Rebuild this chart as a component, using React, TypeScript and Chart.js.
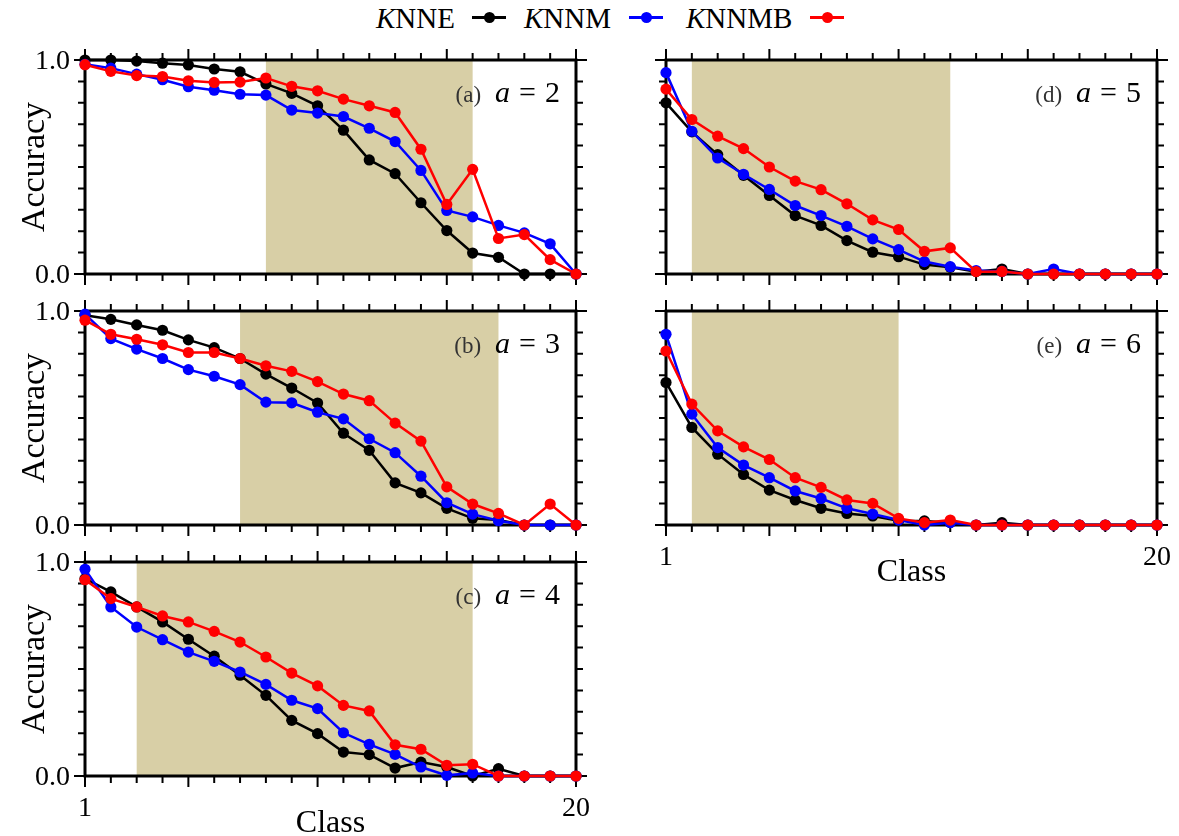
import React, { useEffect, useRef } from "react";
import { Chart, registerables } from "chart.js";
Chart.register(...registerables);

const classes = [1, 2, 3, 4, 5, 6, 7, 8, 9, 10, 11, 12, 13, 14, 15, 16, 17, 18, 19, 20];
const seriesNames = ["KNNE", "KNNM", "KNNMB"];
const yTickLabels = ["0.0", "1.0"];
const xTickLabels = ["1", "20"];

// panel (a) a = 2
const knneA = [1.0, 1.0, 0.995, 0.985, 0.977, 0.958, 0.945, 0.888, 0.844, 0.786, 0.672, 0.533, 0.469, 0.333, 0.203, 0.098, 0.078, 0, 0, 0];
const knnmA = [0.98, 0.962, 0.934, 0.908, 0.875, 0.859, 0.84, 0.836, 0.766, 0.752, 0.736, 0.681, 0.619, 0.484, 0.297, 0.267, 0.227, 0.192, 0.141, 0];
const knnmbA = [0.978, 0.947, 0.927, 0.923, 0.903, 0.895, 0.897, 0.916, 0.877, 0.856, 0.817, 0.786, 0.755, 0.583, 0.325, 0.489, 0.166, 0.184, 0.067, 0];
const shadeA = [8, 16];

// panel (b) a = 3
const knneB = [0.98, 0.961, 0.935, 0.91, 0.865, 0.829, 0.778, 0.705, 0.64, 0.57, 0.429, 0.349, 0.197, 0.15, 0.078, 0.031, 0.023, 0, 0, 0];
const knnmB = [0.985, 0.871, 0.822, 0.778, 0.726, 0.695, 0.656, 0.574, 0.571, 0.527, 0.496, 0.403, 0.338, 0.228, 0.104, 0.051, 0.02, 0, 0, 0];
const knnmbB = [0.957, 0.891, 0.868, 0.842, 0.806, 0.806, 0.778, 0.744, 0.718, 0.67, 0.612, 0.581, 0.476, 0.392, 0.178, 0.098, 0.054, 0, 0.098, 0];
const shadeB = [7, 17];

// panel (c) a = 4
const knneC = [0.922, 0.86, 0.79, 0.72, 0.639, 0.56, 0.471, 0.377, 0.26, 0.198, 0.112, 0.1, 0.037, 0.065, 0.042, 0, 0.034, 0, 0, 0];
const knnmC = [0.966, 0.79, 0.696, 0.637, 0.579, 0.536, 0.486, 0.428, 0.354, 0.315, 0.202, 0.148, 0.101, 0.042, 0.003, 0.014, 0, 0, 0, 0];
const knnmbC = [0.917, 0.829, 0.79, 0.748, 0.72, 0.676, 0.626, 0.556, 0.481, 0.421, 0.33, 0.304, 0.146, 0.125, 0.05, 0.055, 0, 0, 0, 0];
const shadeC = [3, 16];

// panel (d) a = 5
const knneD = [0.8, 0.664, 0.558, 0.461, 0.367, 0.273, 0.227, 0.156, 0.102, 0.081, 0.044, 0.031, 0.011, 0.023, 0, 0, 0, 0, 0, 0];
const knnmD = [0.941, 0.667, 0.542, 0.466, 0.395, 0.32, 0.273, 0.223, 0.164, 0.114, 0.058, 0.034, 0.016, 0.012, 0, 0.023, 0, 0, 0, 0];
const knnmbD = [0.864, 0.722, 0.644, 0.586, 0.5, 0.434, 0.394, 0.328, 0.253, 0.208, 0.106, 0.122, 0.011, 0.012, 0, 0, 0, 0, 0, 0];
const shadeD = [2, 12];

// panel (e) a = 6
const knneE = [0.666, 0.456, 0.331, 0.236, 0.163, 0.117, 0.078, 0.054, 0.042, 0.02, 0.019, 0.011, 0, 0.011, 0, 0, 0, 0, 0, 0];
const knnmE = [0.891, 0.518, 0.362, 0.28, 0.221, 0.159, 0.124, 0.078, 0.051, 0.023, 0, 0.011, 0, 0, 0, 0, 0, 0, 0, 0];
const knnmbE = [0.813, 0.565, 0.44, 0.365, 0.306, 0.221, 0.176, 0.117, 0.101, 0.031, 0.011, 0.023, 0, 0, 0, 0, 0, 0, 0, 0];
const shadeE = [2, 10];

const COLORS = ["#000000", "#0000ff", "#ff0000"];
const SHADE = "#d8cfa6";
const FONT = "'Liberation Serif', 'Times New Roman', serif";

type Rect = { x: number; y: number; w: number; h: number };
type Panel = {
  tag: string;
  aval: number;
  series: number[][];
  shade: number[];
  canvas: Rect;
  plot: { l: number; t: number; r: number; b: number };
  yLabels: boolean;
  xLabels: boolean;
};

const panels: Panel[] = [
  { tag: "(a)", aval: 2, series: [knneA, knnmA, knnmbA], shade: shadeA, canvas: { x: 0, y: 36, w: 600, h: 256 }, plot: { l: 85, t: 60, r: 576, b: 274 }, yLabels: true, xLabels: false },
  { tag: "(b)", aval: 3, series: [knneB, knnmB, knnmbB], shade: shadeB, canvas: { x: 0, y: 292, w: 600, h: 253 }, plot: { l: 85, t: 311, r: 576, b: 525 }, yLabels: true, xLabels: false },
  { tag: "(c)", aval: 4, series: [knneC, knnmC, knnmbC], shade: shadeC, canvas: { x: 0, y: 545, w: 600, h: 291 }, plot: { l: 85, t: 562, r: 576, b: 776 }, yLabels: true, xLabels: true },
  { tag: "(d)", aval: 5, series: [knneD, knnmD, knnmbD], shade: shadeD, canvas: { x: 600, y: 36, w: 579, h: 256 }, plot: { l: 666, t: 60, r: 1157, b: 274 }, yLabels: false, xLabels: false },
  { tag: "(e)", aval: 6, series: [knneE, knnmE, knnmbE], shade: shadeE, canvas: { x: 600, y: 292, w: 579, h: 308 }, plot: { l: 666, t: 311, r: 1157, b: 525 }, yLabels: false, xLabels: true },
];

const decorPlugin = {
  id: "decor",
  beforeDatasetsDraw(chart: any, _args: any, opts: any) {
    const ctx = chart.ctx;
    const a = chart.chartArea;
    const xs = chart.scales.x;
    const ys = chart.scales.y;
    ctx.save();
    // shaded band
    const x0 = xs.getPixelForValue(opts.shade[0]);
    const x1 = xs.getPixelForValue(opts.shade[1]);
    ctx.fillStyle = SHADE;
    ctx.fillRect(x0, a.top, x1 - x0, a.bottom - a.top);
    // ticks
    ctx.strokeStyle = "#000";
    ctx.lineWidth = 2;
    ctx.beginPath();
    for (const v of classes) {
      const px = xs.getPixelForValue(v);
      const major = v === 1 || v % 5 === 0;
      const len = major ? 11 : 7;
      ctx.moveTo(px, a.bottom - 1);
      ctx.lineTo(px, a.bottom + len);
      ctx.moveTo(px, a.top + 1);
      ctx.lineTo(px, a.top - len);
    }
    for (let i = 0; i <= 10; i++) {
      const v = i / 10;
      const py = ys.getPixelForValue(v);
      const major = i === 0 || i === 10;
      const len = major ? 11 : 7;
      ctx.moveTo(a.left + 1, py);
      ctx.lineTo(a.left - len, py);
      ctx.moveTo(a.right - 1, py);
      ctx.lineTo(a.right + len, py);
    }
    ctx.stroke();
    // frame
    ctx.lineWidth = 3;
    ctx.strokeRect(a.left, a.top, a.right - a.left, a.bottom - a.top);

    // texts
    ctx.fillStyle = "#000";
    if (opts.yLabels) {
      ctx.font = `28px ${FONT}`;
      ctx.textAlign = "right";
      ctx.textBaseline = "alphabetic";
      ctx.fillText(yTickLabels[0], a.left - 15, ys.getPixelForValue(0) + 9);
      ctx.fillText(yTickLabels[1], a.left - 15, ys.getPixelForValue(1) + 9);
      ctx.save();
      ctx.translate(a.left - 41, (a.top + a.bottom) / 2);
      ctx.rotate(-Math.PI / 2);
      ctx.textAlign = "center";
      ctx.font = `34px ${FONT}`;
      ctx.fillText("Accuracy", 0, 0);
      ctx.restore();
    }
    if (opts.xLabels) {
      ctx.font = `28px ${FONT}`;
      ctx.textAlign = "center";
      ctx.textBaseline = "alphabetic";
      ctx.fillText(xTickLabels[0], xs.getPixelForValue(1), a.bottom + 40);
      ctx.fillText(xTickLabels[1], xs.getPixelForValue(20), a.bottom + 40);
      ctx.font = `32px ${FONT}`;
      ctx.fillText("Class", (a.left + a.right) / 2, a.bottom + 56);
    }
    // panel label
    ctx.textAlign = "left";
    ctx.textBaseline = "alphabetic";
    const base = a.top + 42;
    const tagFont = `23px ${FONT}`;
    const itFont = `italic 30px ${FONT}`;
    const upFont = `30px ${FONT}`;
    const gap = 9;
    ctx.font = tagFont;
    const wTag = ctx.measureText(opts.tag).width;
    ctx.font = itFont;
    const wA = ctx.measureText("a").width;
    ctx.font = upFont;
    const wEq = ctx.measureText("=").width;
    const wNum = ctx.measureText(String(opts.aval)).width;
    const total = wTag + 14 + wA + gap + wEq + gap + wNum;
    let x = a.right - 16 - total;
    ctx.fillStyle = "#333";
    ctx.font = tagFont;
    ctx.fillText(opts.tag, x, base);
    x += wTag + 14;
    ctx.fillStyle = "#000";
    ctx.font = itFont;
    ctx.fillText("a", x, base);
    x += wA + gap;
    ctx.font = upFont;
    ctx.fillText("=", x, base);
    x += wEq + gap;
    ctx.fillText(String(opts.aval), x, base);
    ctx.restore();
  },
};

function PanelChart({ p }: { p: Panel }) {
  const ref = useRef<HTMLCanvasElement | null>(null);
  useEffect(() => {
    if (!ref.current) return;
    const datasets = p.series.map((vals, si) => ({
      label: seriesNames[si],
      data: vals.map((v, i) => ({ x: classes[i], y: v })),
      borderColor: COLORS[si],
      backgroundColor: COLORS[si],
      borderWidth: 2.5,
      pointRadius: 5.6,
      pointBorderWidth: 0,
      pointBackgroundColor: COLORS[si],
      pointStyle: "circle",
      tension: 0,
      clip: false as any,
      order: 3 - si,
    }));
    const chart = new Chart(ref.current, {
      type: "line",
      data: { datasets },
      options: {
        animation: false,
        responsive: false,
        maintainAspectRatio: false,
        devicePixelRatio: 1,
        events: [],
        layout: {
          padding: {
            left: p.plot.l - p.canvas.x,
            top: p.plot.t - p.canvas.y,
            right: p.canvas.x + p.canvas.w - p.plot.r,
            bottom: p.canvas.y + p.canvas.h - p.plot.b,
          },
        },
        scales: {
          x: { type: "linear", min: 1, max: 20, display: false },
          y: { type: "linear", min: 0, max: 1, display: false },
        },
        plugins: {
          legend: { display: false },
          tooltip: { enabled: false },
          decor: { shade: p.shade, tag: p.tag, aval: p.aval, yLabels: p.yLabels, xLabels: p.xLabels },
        } as any,
      },
      plugins: [decorPlugin],
    });
    return () => chart.destroy();
  }, [p]);
  return (
    <canvas
      ref={ref}
      width={p.canvas.w}
      height={p.canvas.h}
      style={{ position: "absolute", left: p.canvas.x, top: p.canvas.y, width: p.canvas.w, height: p.canvas.h }}
    />
  );
}

function Marker({ color, left }: { color: string; left: number }) {
  return (
    <div style={{ position: "absolute", left, top: 11, width: 34, height: 12 }}>
      <div style={{ position: "absolute", left: 0, top: 4.5, width: 34, height: 3, background: color }} />
      <div style={{ position: "absolute", left: 11.5, top: 1, width: 11, height: 11, borderRadius: "50%", background: color }} />
    </div>
  );
}

const legendText: React.CSSProperties = {
  position: "absolute",
  top: 4,
  fontFamily: FONT,
  fontSize: 29,
  lineHeight: "29px",
  whiteSpace: "nowrap",
  color: "#000",
};

export default function App() {
  return (
    <div style={{ position: "absolute", left: 0, top: 0, width: 1179, height: 836, background: "#fff", overflow: "hidden" }}>
      <span style={{ ...legendText, left: 376 }}><i>K</i>NNE</span>
      <Marker color={COLORS[0]} left={472} />
      <span style={{ ...legendText, left: 524 }}><i>K</i>NNM</span>
      <Marker color={COLORS[1]} left={629} />
      <span style={{ ...legendText, left: 686 }}><i>K</i>NNMB</span>
      <Marker color={COLORS[2]} left={810} />
      {panels.map((p) => (
        <PanelChart key={p.tag} p={p} />
      ))}
    </div>
  );
}
